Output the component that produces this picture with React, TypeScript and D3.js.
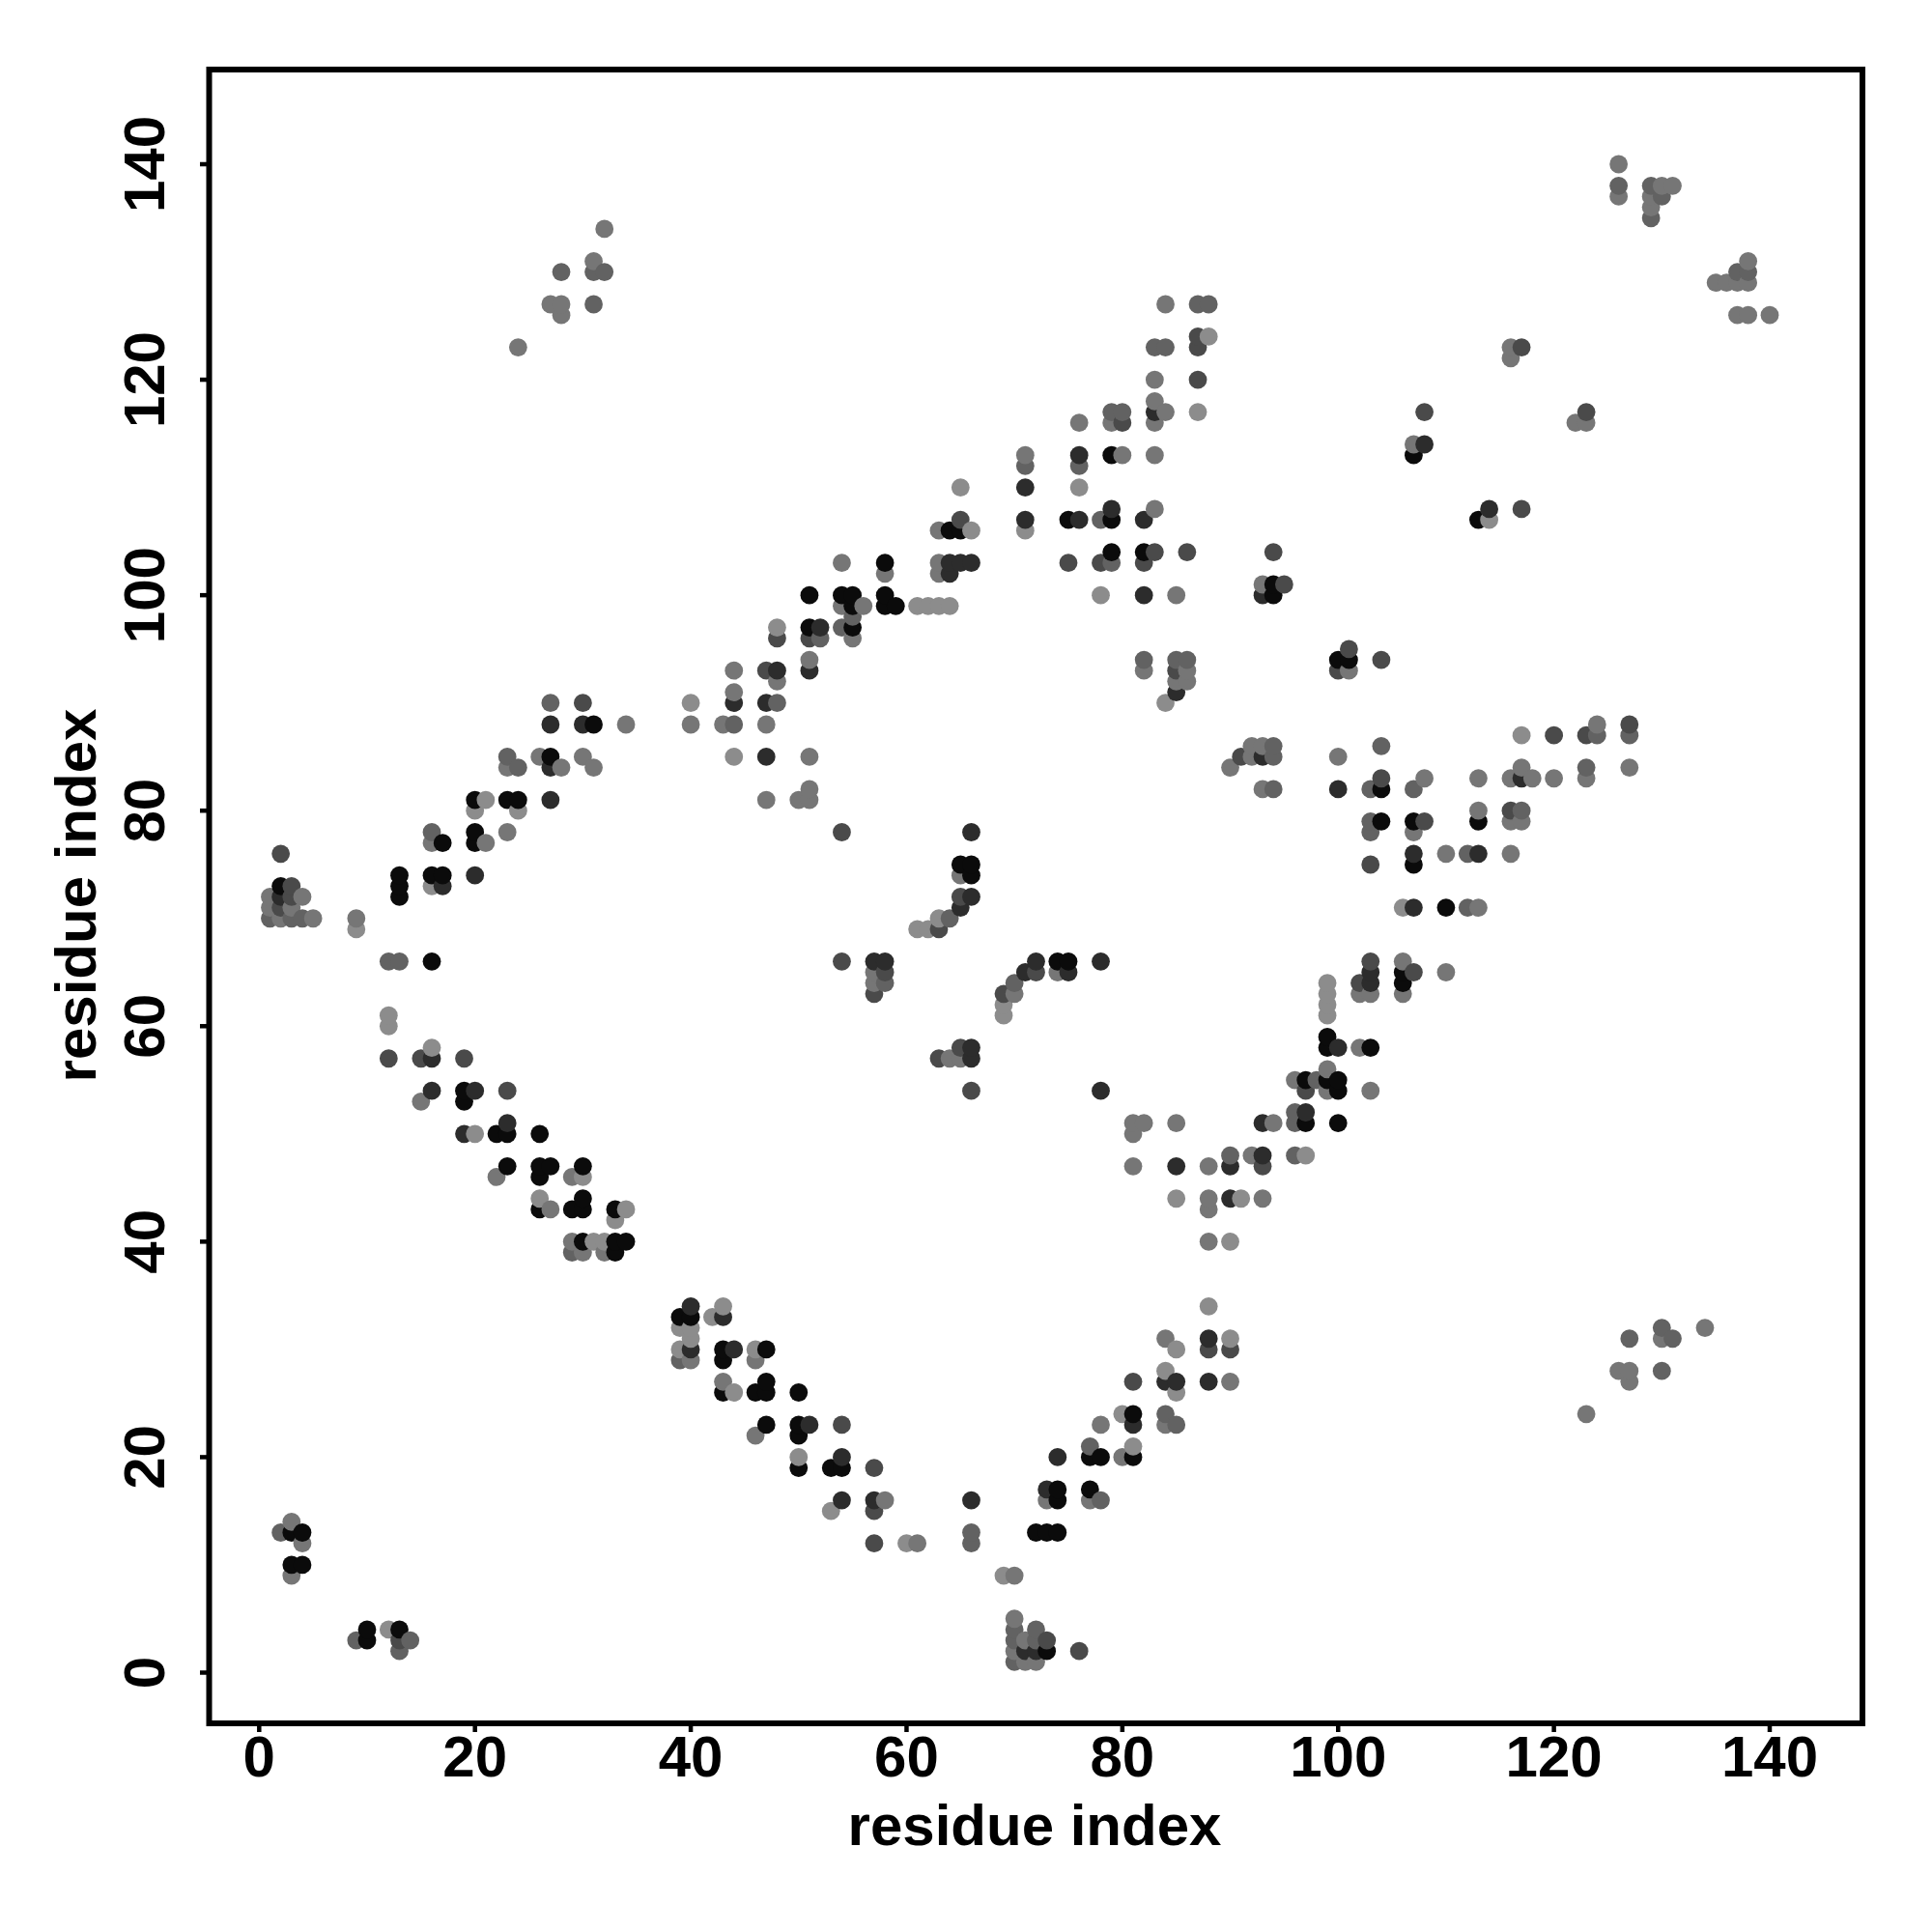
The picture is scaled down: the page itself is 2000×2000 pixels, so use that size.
import React from "react";
import * as d3 from "d3";

const xTicks = [0, 20, 40, 60, 80, 100, 120, 140];
const yTicks = [0, 20, 40, 60, 80, 100, 120, 140];
const axisLabel = "residue index";

// Contacts grouped by grey level: [residue i, residue j]
const contactsBlack: number[][] = [
[3,13],[4,13],[3,10],[4,10],[10,3],[10,4],[13,4],[2,73],[16,66],[19,54],[19,53],[22,50],[23,50],[26,50],[23,47],[26,47],[27,47],[26,46],[30,47],
[26,43],[29,43],[30,43],[30,44],[30,40],[33,40],[34,40],[33,39],[33,43],[20,81],[23,81],[24,81],[17,77],[20,78],[20,77],[13,74],[13,73],[13,72],[16,74],[17,74],[31,88],[27,85],
[64,106],[65,106],[75,107],[79,107],[58,103],[51,100],[54,100],[55,100],[58,100],[55,99],[58,99],[59,99],[55,97],[51,97],[79,104],[65,75],[66,75],[66,74],[74,66],[75,66],
[79,113],[82,104],[94,101],[94,100],[100,94],[101,94],[107,113],[104,82],[104,79],[107,79],[107,75],[113,79],[103,58],[99,59],[99,58],[100,55],[99,55],[97,55],[100,54],[97,51],[100,51],
[106,65],[106,64],[81,20],[77,20],[78,20],[74,17],[74,16],[77,17],[72,13],[73,13],[74,13],[81,24],[39,33],[43,30],[43,29],[47,30],[43,26],[46,26],[47,26],[47,27],[50,26],[47,23],[50,23],[50,22],[50,19],[53,19],[54,19],[73,2],[113,107],[110,71],[40,33],
];
const contactsDark: number[][] = [
[2,72],[17,73],[20,74],[27,81],[16,57],[16,54],[20,54],[19,50],[23,51],[27,88],[30,88],[27,84],
[71,110],[71,107],[76,107],[79,108],[76,113],[82,100],[93,100],[64,103],[65,103],[66,103],[64,102],[52,97],[48,93],[51,93],[44,90],[47,90],[47,85],[66,78],[66,72],[65,71],
[57,66],[58,66],[72,66],[78,66],[71,65],[75,65],[66,58],[66,57],[78,54],[83,117],[82,107],[85,91],[93,85],[100,82],[107,76],[113,76],[117,83],[107,71],[103,65],[103,64],[100,58],[97,52],[93,51],[93,48],[85,47],[90,47],[90,44],[88,31],[84,27],[85,27],[88,27],[81,23],[74,20],[73,17],
[40,34],[40,30],[44,30],[43,33],[51,23],[54,20],[54,16],[57,16],[66,16],[71,2],[72,2],[108,114],[114,108],
];
const contactsMid: number[][] = [
[13,3],[2,76],[3,73],[3,72],[2,71],[15,57],[12,57],[19,57],[23,54],[30,90],
[65,107],[75,103],[47,93],[54,78],[65,72],[63,69],[54,66],[58,65],[69,63],[72,65],[65,58],[63,57],[57,63],[66,54],[87,124],[87,123],[87,120],[80,116],[82,103],[83,104],[85,93],[86,104],[94,104],[95,101],[104,94],[101,95],[100,93],[108,117],[91,85],[104,83],[108,79],[103,75],[120,87],[123,87],[127,88],[117,108],[117,123],[123,117],
[116,80],[97,54],[107,65],[102,64],[103,66],[93,47],[88,30],[90,30],[81,27],[57,19],[57,15],[57,12],[54,23],[73,3],[76,2],[51,96],[48,96],[78,103],
];
const contactsGrey: number[][] = [
[2,13],[9,3],[13,2],[14,3],[16,78],[1,70],[3,70],[4,70],[12,66],[13,66],[23,85],[24,84],[27,90],[29,39],[31,127],[28,130],[31,130],[32,130],
[54,97],[55,98],[52,96],[64,70],[70,64],[58,64],[44,88],[48,90],[71,112],[76,112],[78,107],[87,127],[88,127],[83,123],[84,123],[79,117],[80,117],[85,94],[86,94],[82,94],[94,86],[94,85],[94,82],[104,86],[103,82],[107,82],[103,79],[103,78],[112,76],[112,71],[117,80],[123,84],[124,87],[127,87],[98,55],[96,52],[96,51],[96,48],[90,48],[79,103],
[84,24],[85,23],[78,16],[66,13],[66,12],[70,4],[72,4],[70,3],[72,3],[70,1],[39,29],[77,21],[129,138],[130,137],[129,135],[126,138],[137,130],[138,130],[130,32],[131,31],[127,31],[130,28],
];
const contactsLight: number[][] = [
[3,14],[4,12],[3,9],[1,72],[4,72],[1,71],[3,71],[2,70],[5,70],[9,70],[16,77],[21,77],[23,78],[22,46],[29,46],[27,43],[15,53],[26,85],[23,84],[28,84],[31,84],[30,85],[34,88],[29,40],[30,39],[32,39],[44,91],[44,93],[48,92],[40,88],[43,88],[47,88],[51,85],[47,81],[50,81],[51,81],[51,82],[51,94],
[54,103],[58,102],[63,106],[63,103],[63,102],[54,99],[56,99],[55,96],[65,74],[57,65],[57,64],[70,63],[74,65],[64,57],[65,57],[84,127],[83,120],[83,118],[84,117],[83,116],[79,116],[76,116],[71,113],[80,113],[83,113],[83,108],[85,100],[82,93],[86,93],[85,92],[86,92],[92,86],[93,86],[92,85],[90,84],[93,82],[93,101],[100,85],[101,93],[108,83],[107,78],[110,76],[116,76],[113,83],[116,83],[117,84],[118,83],[120,83],[123,83],[127,84],[116,79],[117,79],[113,80],[113,71],
[102,63],[103,63],[106,66],[106,63],[110,65],[99,56],[96,55],[99,54],[103,54],[102,58],[94,51],[85,51],[81,51],[82,51],[81,50],[81,47],[88,47],[92,48],[88,44],[88,43],[93,44],[88,40],[84,31],[90,27],[78,23],[84,23],[80,20],[77,16],[73,16],[58,16],[61,12],[70,9],[70,5],[71,3],[70,2],[71,1],[72,1],[40,29],[46,29],[43,27],[46,22],
[24,123],[27,127],[28,127],[28,126],[31,131],[32,134],[126,140],[126,137],[130,138],[131,138],[129,137],[129,136],[135,129],[136,129],[137,129],[138,129],[138,131],[137,126],[138,126],[140,126],[116,123],[116,122],[122,116],[123,116],[123,24],[126,28],[127,28],[127,27],[130,31],[134,32],[124,88],[107,114],
];
const contactsPale: number[][] = [
[12,4],[9,69],[12,61],[12,60],[16,58],[16,73],[20,80],[24,80],[21,81],[20,50],[30,46],[26,44],[34,43],[33,42],[31,40],[32,40],
[40,90],[44,85],[48,97],[61,99],[62,99],[63,99],[64,99],[66,106],[65,110],[71,106],[76,110],[78,100],[61,69],[62,69],[63,70],[69,62],[69,61],[87,117],[84,90],[88,124],[106,71],[97,48],[99,64],[99,63],[99,62],[99,61],[85,44],[91,44],[90,40],[88,34],[85,30],[90,31],[85,26],[84,28],[80,24],[81,21],[50,20],[53,15],[60,12],[69,9],
[39,32],[40,32],[40,31],[39,30],[42,33],[43,34],[46,30],[44,26],[114,107],[117,87],
];

const groups: [number[][], string][] = [
  [contactsBlack, "#0b0b0b"],
  [contactsDark, "#2c2c2c"],
  [contactsMid, "#4a4a4a"],
  [contactsGrey, "#626262"],
  [contactsLight, "#767676"],
  [contactsPale, "#8c8c8c"],
];

export default function App() {
  const x = d3.scaleLinear().domain([0, 140]).range([268.3, 1832]);
  const y = d3.scaleLinear().domain([0, 140]).range([1731.5, 170]);
  const pts = groups
    .flatMap(([list, fill]) => list.map(([a, b]) => ({ a, b, fill })))
    .sort((p, q) => d3.ascending(p.a, q.a) || d3.ascending(p.b, q.b));
  const font = "'Liberation Sans', Arial, sans-serif";
  return (
    <svg width={2000} height={2000} style={{ position: "absolute", left: 0, top: 0, background: "#fff" }}>
      <g fontFamily={font} fontWeight="bold" fontSize={60} fill="#000">
        {pts.map((p, i) => (
          <circle key={i} cx={x(p.a)} cy={y(p.b)} r={9.4} fill={p.fill} />
        ))}
        <rect x={216.5} y={72} width={1711.5} height={1712} fill="none" stroke="#000" strokeWidth={6} />
        {xTicks.map((t) => (
          <g key={t}>
            <line x1={x(t)} x2={x(t)} y1={1784} y2={1793} stroke="#000" strokeWidth={4.5} />
            <text x={x(t)} y={1839} textAnchor="middle">{t}</text>
          </g>
        ))}
        {yTicks.map((t) => (
          <g key={t}>
            <line x1={216.5} x2={207} y1={y(t)} y2={y(t)} stroke="#000" strokeWidth={4.5} />
            <text transform={`translate(170,${y(t)}) rotate(-90)`} textAnchor="middle">{t}</text>
          </g>
        ))}
        <text x={1071} y={1910} textAnchor="middle">{axisLabel}</text>
        <text transform={`translate(99,927) rotate(-90)`} textAnchor="middle">{axisLabel}</text>
      </g>
    </svg>
  );
}
